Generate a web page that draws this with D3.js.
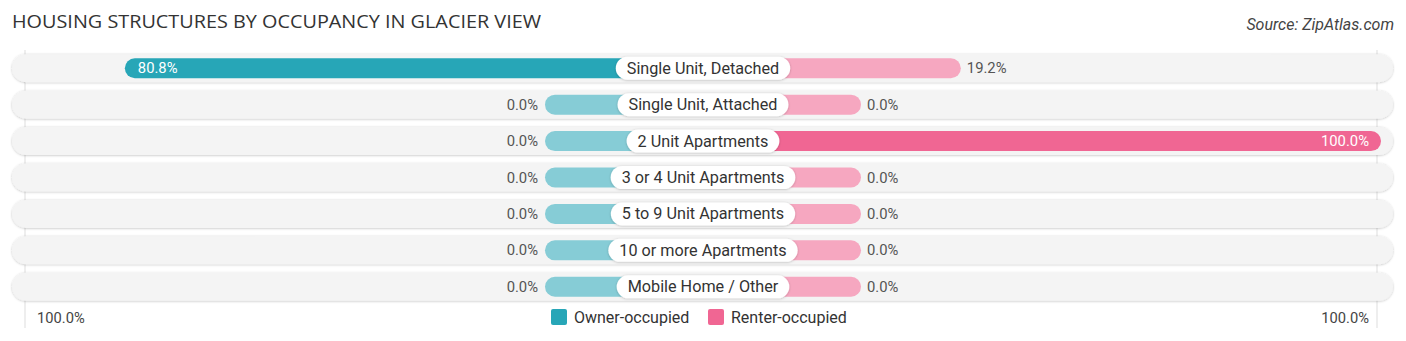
<!DOCTYPE html>
<html><head><meta charset="utf-8">
<script src="https://cdn.jsdelivr.net/npm/d3@7"></script>
<style>body{margin:0;background:#fff}svg{display:block}</style>
</head><body>
<svg id="chart" width="1406" height="341"></svg>
<script>
const categories = ["Single Unit, Detached","Single Unit, Attached","2 Unit Apartments","3 or 4 Unit Apartments","5 to 9 Unit Apartments","10 or more Apartments","Mobile Home / Other"];
const ownerValues = [80.8,0,0,0,0,0,0];
const renterValues = [19.2,0,100,0,0,0,0];
const seriesNames = ["Owner-occupied","Renter-occupied"];
const axisTickLabels = ["100.0%","100.0%"];

const W = 1406, H = 341;
const svg = d3.select("#chart");
const cx = 703, stub = 158, span = 520;
const font = "Roboto, 'Noto Sans', sans-serif";
const cOwner = "#27a6b7", cOwnerL = "#86ccd6", cRenter = "#f06693", cRenterL = "#f6a7c0";

const y = d3.scaleBand().domain(categories).range([50, 305]).paddingInner(0.22).paddingOuter(0.11);
const xR = d3.scaleLinear().domain([0,100]).range([cx + stub, cx + stub + span]);
const xL = d3.scaleLinear().domain([0,100]).range([cx - stub, cx - stub - span]);

svg.append("text").attr("x",12).attr("y",28).text("HOUSING STRUCTURES BY OCCUPANCY IN GLACIER VIEW")
  .attr("font-family","'Open Sans', sans-serif").attr("font-size",18.5).attr("fill","#333")
  .attr("textLength",529).attr("lengthAdjust","spacingAndGlyphs");
svg.append("text").attr("x",1394).attr("y",30).attr("text-anchor","end").text("Source: ZipAtlas.com")
  .attr("font-family",font).attr("font-style","italic").attr("font-size",16).attr("fill","#444");

[xL(100), xR(100)-4].forEach(gx => {
  svg.append("line").attr("x1",gx).attr("x2",gx).attr("y1",50).attr("y2",328).attr("stroke","#ddd").attr("stroke-width",1);
});

const defs = svg.append("defs");
const f = defs.append("filter").attr("id","sh").attr("x","-5%").attr("y","-30%").attr("width","110%").attr("height","160%");
f.append("feDropShadow").attr("dx",0).attr("dy",0.5).attr("stdDeviation",1).attr("flood-color","#000").attr("flood-opacity",0.25);

const rowH = 28, barH = 20, vfs = 14.8;
categories.forEach((cat,i) => {
  const yc = y(cat) + y.bandwidth()/2;
  const g = svg.append("g");
  g.append("rect").attr("x",12).attr("y",yc-rowH/2).attr("width",1381).attr("height",rowH).attr("rx",14)
    .attr("fill","#f4f4f4").attr("filter","url(#sh)");
  const o = ownerValues[i], r = renterValues[i];
  const oStrong = o > r, rStrong = r > o;
  g.append("rect").attr("x",xL(o)).attr("y",yc-barH/2).attr("width",cx - xL(o)).attr("height",barH).attr("rx",10)
    .attr("fill", oStrong ? cOwner : cOwnerL);
  g.append("rect").attr("x",cx).attr("y",yc-barH/2).attr("width",xR(r) - cx).attr("height",barH).attr("rx",10)
    .attr("fill", rStrong ? cRenter : cRenterL);
  const fmt = v => v.toFixed(1) + "%";
  if (oStrong && o > 20) {
    g.append("text").attr("x",xL(o)+13).attr("y",yc+5).text(fmt(o)).attr("fill","#fff")
      .attr("font-family",font).attr("font-size",vfs);
  } else {
    g.append("text").attr("x",xL(o)-7).attr("y",yc+5).attr("text-anchor","end").text(fmt(o)).attr("fill","#555")
      .attr("font-family",font).attr("font-size",vfs);
  }
  if (rStrong && r > 20) {
    g.append("text").attr("x",xR(r)-12).attr("y",yc+5).attr("text-anchor","end").text(fmt(r)).attr("fill","#fff")
      .attr("font-family",font).attr("font-size",vfs);
  } else {
    g.append("text").attr("x",xR(r)+6).attr("y",yc+5).text(fmt(r)).attr("fill","#555")
      .attr("font-family",font).attr("font-size",vfs);
  }
  const t = g.append("text").attr("x",cx).attr("y",yc+5.5).attr("text-anchor","middle").text(cat)
    .attr("font-family",font).attr("font-size",16.2).attr("fill","#333");
  const tw = t.node().getComputedTextLength();
  g.insert("rect", "text").attr("x",cx - tw/2 - 11).attr("y",yc-11.5).attr("width",tw+22).attr("height",23).attr("rx",11.5)
    .attr("fill","#fff").attr("filter","url(#sh)");
});

svg.append("text").attr("x",37).attr("y",323).text(axisTickLabels[0]).attr("font-family",font).attr("font-size",14.7).attr("fill","#444");
svg.append("text").attr("x",1369).attr("y",323).attr("text-anchor","end").text(axisTickLabels[1]).attr("font-family",font).attr("font-size",14.7).attr("fill","#444");

const leg = [[551, cOwner, seriesNames[0]],[708, cRenter, seriesNames[1]]];
leg.forEach(([lx,c,name]) => {
  svg.append("rect").attr("x",lx).attr("y",309).attr("width",16).attr("height",16).attr("rx",2).attr("fill",c);
  svg.append("text").attr("x",lx+23).attr("y",323).text(name).attr("font-family",font).attr("font-size",16).attr("fill","#333");
});
</script>
</body></html>
